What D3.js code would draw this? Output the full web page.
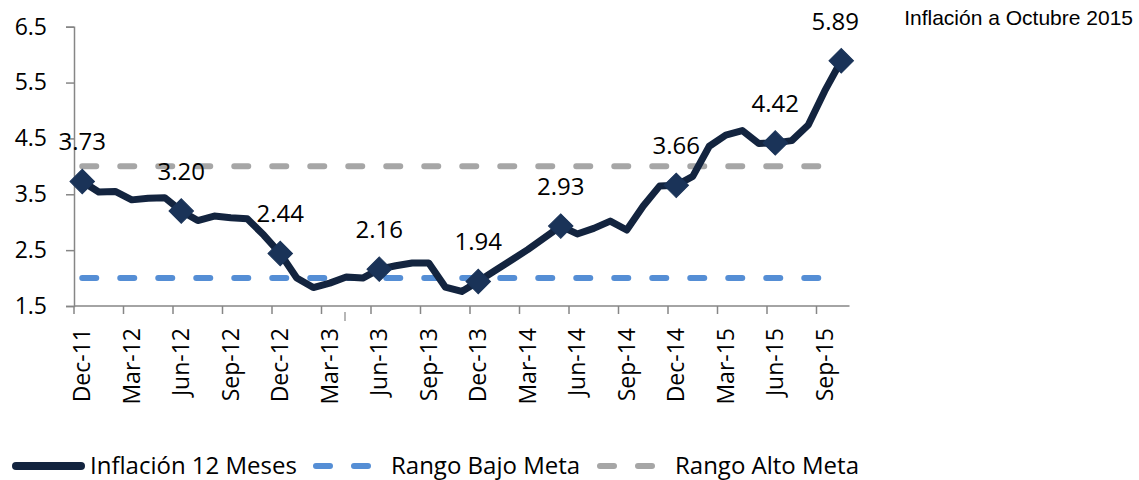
<!DOCTYPE html>
<html>
<head>
<meta charset="utf-8">
<script src="https://cdn.jsdelivr.net/npm/d3@7"></script>
<style>
  body { margin: 0; background: #fff; }
  text { font-family: "Open Sans", sans-serif; fill: #000; }
</style>
</head>
<body>
<div id="chart"></div>
<script>
var months = ["Dec-11","Jan-12","Feb-12","Mar-12","Apr-12","May-12","Jun-12","Jul-12","Aug-12","Sep-12","Oct-12","Nov-12",
              "Dec-12","Jan-13","Feb-13","Mar-13","Apr-13","May-13","Jun-13","Jul-13","Aug-13","Sep-13","Oct-13","Nov-13",
              "Dec-13","Jan-14","Feb-14","Mar-14","Apr-14","May-14","Jun-14","Jul-14","Aug-14","Sep-14","Oct-14","Nov-14",
              "Dec-14","Jan-15","Feb-15","Mar-15","Apr-15","May-15","Jun-15","Jul-15","Aug-15","Sep-15","Oct-15"];
var tickLabels = ["Dec-11","Mar-12","Jun-12","Sep-12","Dec-12","Mar-13","Jun-13","Sep-13",
                  "Dec-13","Mar-14","Jun-14","Sep-14","Dec-14","Mar-15","Jun-15","Sep-15"];
var inflacion = [3.73,3.54,3.55,3.40,3.43,3.44,3.20,3.03,3.11,3.08,3.06,2.77,
                 2.44,2.00,1.83,1.91,2.02,2.00,2.16,2.22,2.27,2.27,1.84,1.76,
                 1.94,2.13,2.32,2.51,2.72,2.93,2.79,2.89,3.02,2.86,3.29,3.65,
                 3.66,3.82,4.36,4.56,4.64,4.41,4.42,4.46,4.74,5.35,5.89];
// range lines stop at Sep-15
var rangoBajo = [2,2,2,2,2,2,2,2,2,2,2,2, 2,2,2,2,2,2,2,2,2,2,2,2,
                 2,2,2,2,2,2,2,2,2,2,2,2, 2,2,2,2,2,2,2,2,2,2];
var rangoAlto = [4,4,4,4,4,4,4,4,4,4,4,4, 4,4,4,4,4,4,4,4,4,4,4,4,
                 4,4,4,4,4,4,4,4,4,4,4,4, 4,4,4,4,4,4,4,4,4,4];
var labeled = ["Dec-11","Jun-12","Dec-12","Jun-13","Dec-13","May-14","Dec-14","Jun-15","Oct-15"];
var yTicks = [1.5, 2.5, 3.5, 4.5, 5.5, 6.5];

var w = 1139, h = 480;
var navy = "#13243f", marker = "#1a3358", blue = "#558ed5", grey = "#a6a6a6", axisCol = "#868686";

var svg = d3.select("#chart").append("svg")
    .attr("width", w).attr("height", h);

var x = d3.scaleBand().domain(months).range([74, 849.5]).padding(0);
var y = d3.scaleLinear().domain([1.5, 6.5]).range([306, 26.7]);
var cx = function(m){ return x(m) + x.bandwidth() / 2; };

// y axis
var yAxis = svg.append("g")
    .attr("transform", "translate(74,0)")
    .call(d3.axisLeft(y).tickValues(yTicks).tickSize(8).tickPadding(19).tickFormat(d3.format(".1f")));
yAxis.select(".domain").attr("stroke", axisCol).attr("stroke-width", 1.5);
yAxis.selectAll(".tick line").attr("stroke", axisCol).attr("stroke-width", 1.5);
yAxis.selectAll("text").style("font-family", "Open Sans").style("font-size", "23px").attr("fill", "#000");

// x axis line and ticks at band boundaries
svg.append("line").attr("x1", 74).attr("x2", 849.5).attr("y1", 306).attr("y2", 306)
    .attr("stroke", axisCol).attr("stroke-width", 1.5);
svg.selectAll(".xtick").data(tickLabels).enter().append("line")
    .attr("class", "xtick")
    .attr("x1", function(d){ return x(d); }).attr("x2", function(d){ return x(d); })
    .attr("y1", 306).attr("y2", 314)
    .attr("stroke", axisCol).attr("stroke-width", 1.5);
// small stray mark under the axis
svg.append("line").attr("x1", 345).attr("x2", 345).attr("y1", 312).attr("y2", 321)
    .attr("stroke", axisCol).attr("stroke-width", 1.2);

svg.selectAll(".xlab").data(tickLabels).enter().append("text")
    .attr("class", "xlab")
    .attr("transform", function(d){ return "translate(" + cx(d) + ",328) rotate(-90)"; })
    .attr("dy", "0.35em")
    .attr("text-anchor", "end")
    .style("font-size", "23px")
    .text(function(d){ return d; });

// target range lines
var line = d3.line()
    .x(function(d, i){ return cx(months[i]); })
    .y(function(d){ return y(d); });

svg.append("path").datum(rangoAlto).attr("d", line)
    .attr("fill", "none").attr("stroke", grey).attr("stroke-width", 6)
    .attr("stroke-dasharray", "14,24").attr("stroke-linecap", "round");
svg.append("path").datum(rangoBajo).attr("d", line)
    .attr("fill", "none").attr("stroke", blue).attr("stroke-width", 6)
    .attr("stroke-dasharray", "14,24").attr("stroke-linecap", "round");

// inflation line
svg.append("path").datum(inflacion).attr("d", line)
    .attr("fill", "none").attr("stroke", navy).attr("stroke-width", 7)
    .attr("stroke-linejoin", "round").attr("stroke-linecap", "round");

var pts = labeled.map(function(m){ return { m: m, v: inflacion[months.indexOf(m)] }; });

svg.selectAll(".mk").data(pts).enter().append("path")
    .attr("class", "mk")
    .attr("d", d3.symbol().type(d3.symbolSquare).size(300))
    .attr("transform", function(d){ return "translate(" + cx(d.m) + "," + y(d.v) + ") rotate(45)"; })
    .attr("fill", marker).attr("stroke", marker).attr("stroke-width", 1);

svg.selectAll(".dl").data(pts).enter().append("text")
    .attr("class", "dl")
    .attr("x", function(d, i){ return cx(d.m) - (i === pts.length - 1 ? 6 : 0); })
    .attr("y", function(d){ return y(d.v) - 31; })
    .attr("text-anchor", "middle")
    .style("font-size", "24px")
    .text(function(d){ return d3.format(".2f")(d.v); });

// title
svg.append("text")
    .attr("x", 1133).attr("y", 25)
    .attr("text-anchor", "end")
    .style("font-family", "'Liberation Sans', Arial, sans-serif")
    .style("font-size", "21px")
    .text("Inflación a Octubre 2015");

// legend
var lg = svg.append("g");
lg.append("line").attr("x1", 16).attr("x2", 81).attr("y1", 466).attr("y2", 466)
    .attr("stroke", navy).attr("stroke-width", 8).attr("stroke-linecap", "round");
lg.append("text").attr("x", 90).attr("y", 474).style("font-size", "24px").text("Inflación 12 Meses");
lg.append("line").attr("x1", 316).attr("x2", 370).attr("y1", 466).attr("y2", 466)
    .attr("stroke", blue).attr("stroke-width", 6).attr("stroke-linecap", "round")
    .attr("stroke-dasharray", "14,24");
lg.append("text").attr("x", 391).attr("y", 474).style("font-size", "24px").text("Rango Bajo Meta");
lg.append("line").attr("x1", 600).attr("x2", 654).attr("y1", 466).attr("y2", 466)
    .attr("stroke", grey).attr("stroke-width", 6).attr("stroke-linecap", "round")
    .attr("stroke-dasharray", "14,24");
lg.append("text").attr("x", 675).attr("y", 474).style("font-size", "24px").text("Rango Alto Meta");
</script>
</body>
</html>
